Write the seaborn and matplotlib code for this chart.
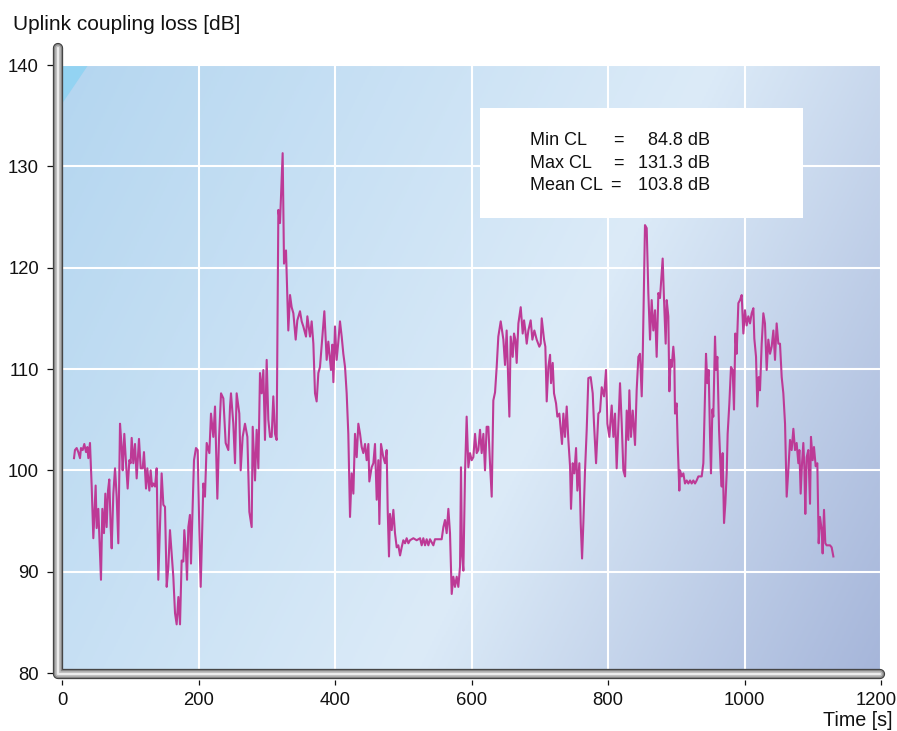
import numpy as np
import pandas as pd
import matplotlib
matplotlib.use("Agg")
import matplotlib.pyplot as plt
import matplotlib.transforms as mtransforms
import seaborn as sns
from matplotlib.patches import Polygon, Rectangle
from matplotlib.colors import LinearSegmentedColormap

# ---------------- data ----------------
time_s = [
    17.6, 19.0, 21.5, 23.9, 26.4, 27.8, 30.3, 32.7, 35.2, 37.1, 38.6, 41.0, 43.5, 45.9, 49.3,
    50.8, 53.2, 57.1, 59.1, 61.5, 63.5, 65.4, 67.4, 69.3, 71.3, 72.8, 75.2, 77.7, 80.1, 82.5,
    85.0, 87.4, 88.9, 91.3, 93.8, 96.2, 98.7, 100.6, 102.1, 104.5, 107.0, 109.4, 112.8, 115.3,
    118.2, 120.1, 123.1, 125.0, 128.0, 129.9, 131.9, 133.8, 136.3, 138.7, 141.1, 146.0, 148.5,
    150.9, 153.4, 155.8, 158.2, 160.7, 163.1, 165.6, 168.0, 170.5, 172.9, 175.3, 177.8, 179.2,
    181.7, 183.2, 185.1, 187.5, 189.0, 191.5, 193.4, 196.3, 198.8, 201.2, 203.2, 205.0,
    207.1, 209.5, 212.0, 215.9, 218.3, 221.7, 224.2, 227.6, 230.0, 233.0, 236.4, 239.8, 243.7,
    246.2, 247.6, 251.0, 253.5, 255.9, 259.8, 261.8, 264.7, 268.1, 271.6, 274.5, 277.9, 279.4,
    282.8, 285.2, 287.7, 290.1, 292.6, 295.0, 297.4, 299.9, 302.3, 304.8, 307.2, 309.6, 312.1,
    314.5, 317.0, 319.4, 323.3, 325.3, 328.2, 331.6, 334.1, 336.5, 339.0, 342.4, 344.8, 348.7,
    351.2, 353.6, 357.5, 359.5, 363.4, 365.8, 368.3, 370.7, 373.1, 375.6, 378.0, 384.4, 387.8,
    390.2, 394.1, 396.1, 397.6, 400.0, 402.4, 404.9, 407.3, 409.8, 412.2, 414.7, 417.1, 419.5,
    422.0, 424.4,
    426.9, 429.3, 431.8, 434.2, 436.7, 439.1, 441.5, 444.0, 446.4, 448.9, 450.3, 452.3, 453.7,
    456.2, 458.6, 461.1, 463.5, 465.0, 467.4, 470.8, 473.3, 475.7, 477.2, 479.1, 480.6, 483.1,
    485.5, 487.9, 490.4, 492.8, 495.3, 497.7, 500.1, 502.6, 505.0, 507.5, 509.9, 514.8, 519.7,
    524.6, 527.0, 529.4, 531.9, 534.3, 536.8, 539.2, 544.1, 546.5, 551.4, 556.3, 558.8, 561.2,
    563.6, 566.1, 568.5, 571.0, 573.4, 575.8, 578.3, 580.7, 583.2, 584.6, 586.1, 588.1, 590.5,
    592.9, 595.4, 597.8, 600.3, 602.7, 605.2, 607.6, 610.0, 612.5, 614.9, 617.4, 619.8, 622.2,
    624.7, 627.1, 629.6, 632.0, 634.5, 636.9, 639.3, 642.8, 646.7, 649.1, 651.5, 655.5,
    657.4, 660.4, 662.3, 664.3, 666.2, 668.7, 672.1, 675.0, 677.0, 678.9, 680.9, 683.3, 686.7,
    689.2, 692.1, 695.5, 699.4, 701.4, 702.9, 706.3, 708.2, 710.2, 712.6, 715.1, 716.5, 719.0,
    720.9, 723.9, 725.8, 728.7, 730.7, 732.6, 734.6, 737.0, 739.5, 741.9, 744.4, 745.8, 748.3,
    750.7, 753.2, 755.1, 758.0, 760.0, 762.0, 763.9, 766.3, 768.8, 771.2, 774.6, 777.6, 779.5,
    782.5, 785.9, 788.3, 790.8, 794.2, 797.1, 799.1, 802.0, 805.4, 807.9, 810.3, 812.7, 815.2,
    817.6, 820.1, 822.5, 825.0, 827.4, 829.8, 831.3, 833.7, 836.2, 839.6, 842.0, 844.5, 846.9,
    849.4, 850.8,
    854.2, 856.7, 859.1, 861.6, 864.0, 866.4, 868.9, 871.3, 873.8, 876.2, 880.1, 882.1, 884.5,
    886.0, 888.4, 889.9, 891.8, 893.3, 895.7, 897.2, 898.2, 900.6, 902.1, 904.5, 905.5, 908.0,
    910.4, 912.8, 915.3, 917.7, 920.2, 922.6, 925.0, 927.5, 929.9, 932.4, 937.3, 939.7, 942.1,
    943.6, 945.6, 947.5, 949.5, 950.9, 952.9, 954.3, 956.8, 958.3, 960.2, 962.7, 965.1, 966.6,
    968.0, 970.0, 971.9, 973.9, 975.3, 977.8, 980.2, 982.7, 984.6, 986.6, 988.5, 991.0, 993.4,
    995.9, 998.3, 1000.7, 1003.2, 1005.6, 1008.1, 1010.5, 1013.0, 1014.4, 1016.9, 1018.8,
    1020.8, 1022.7, 1025.2, 1027.6, 1030.0, 1032.5, 1034.9, 1037.4, 1039.8, 1042.3, 1044.7,
    1047.1, 1049.6, 1052.0, 1054.5, 1056.9, 1059.4, 1061.8, 1064.2, 1066.7, 1069.1, 1071.6,
    1074.0, 1076.4, 1078.9, 1080.4, 1082.3, 1084.3, 1086.2, 1087.7, 1089.1, 1091.1, 1093.5,
    1096.0, 1097.4, 1099.9, 1101.8, 1104.3, 1106.7, 1108.7, 1110.6, 1113.1, 1114.5, 1116.5,
    1118.4, 1120.4, 1125.3, 1127.7, 1130.2,
]

coupling_loss_db = [
    101.2, 102.0, 102.2, 101.8, 101.2, 102.2, 102.0, 102.6, 101.8, 102.3, 101.2, 102.7, 98.4, 93.3, 98.5,
    94.3, 96.2, 89.2, 96.2, 93.8, 97.7, 94.4, 98.0, 99.1, 94.4, 92.3, 97.7, 100.2, 97.4, 92.8,
    104.6, 102.3, 100.0, 103.6, 100.7, 98.2, 101.0, 100.7, 103.2, 100.7, 102.6, 99.2, 103.1, 100.2,
    100.2, 101.8, 98.2, 100.2, 98.0, 100.0, 98.4, 98.7, 98.4, 100.2, 89.2, 99.7, 96.6,
    96.4, 88.5, 90.5, 94.1, 91.8, 89.5, 85.9, 84.8, 87.5, 84.8, 91.1, 91.0, 94.1,
    91.8, 89.2, 94.4, 95.6, 90.8, 96.4, 101.0, 102.2, 102.0, 94.1, 88.5, 93.0,
    98.7, 97.4, 102.7, 101.7, 105.6, 103.3, 106.3, 97.2, 103.0, 107.6, 107.1, 102.7, 102.0,
    106.3, 107.6, 104.6, 100.7, 107.6, 105.6, 100.0, 103.3, 104.6, 103.3, 95.9, 94.4, 104.3,
    99.0, 104.0, 100.2, 109.6, 107.6, 109.9, 103.0, 110.9, 105.0, 103.3, 103.3, 107.3, 103.6,
    103.0, 125.7, 124.4, 131.3, 120.4, 121.7, 113.8, 117.3, 116.1, 115.5, 112.9, 114.8, 115.7,
    114.7, 114.2, 113.2, 115.2, 113.2, 114.7, 112.5, 107.6, 106.8, 109.6, 110.2, 115.7, 110.9,
    112.7, 109.9, 112.4, 108.7, 114.2, 110.9, 112.7, 114.7, 113.2, 111.5, 110.2, 107.6, 103.6,
    95.4, 99.7,
    97.7, 103.6, 101.3, 104.6, 103.6, 102.3, 101.7, 102.6, 101.0, 102.6, 98.9, 99.7, 100.3,
    100.7, 102.6, 97.1, 101.0, 94.7, 102.6, 101.3, 100.7, 102.0, 96.1, 91.5, 95.7, 94.1,
    96.1, 93.8, 92.4, 92.6, 91.6, 92.4, 93.1, 92.8, 93.3, 92.8, 93.1, 93.3, 93.1,
    93.3, 92.6, 93.3, 92.6, 93.2, 92.6, 93.2, 92.6, 93.2, 93.2, 93.2, 94.4, 95.1,
    93.8, 96.2, 93.8, 87.8, 89.5, 88.5, 89.5, 88.5, 90.5, 100.3, 91.8, 90.1, 99.7,
    105.3, 100.3, 101.7, 101.0, 101.3, 103.6, 101.7, 102.0, 104.0, 101.7, 103.6, 100.0, 104.3,
    104.3, 100.7, 97.4, 106.9, 107.7, 110.2, 113.2, 114.7, 112.9, 110.4, 113.8, 105.3,
    113.2, 111.2, 113.5, 112.9, 110.6, 114.5, 116.1, 113.5, 114.8, 113.8, 112.5, 113.8, 114.8,
    112.9, 113.8, 112.9, 112.2, 112.5, 115.0, 112.9, 112.2, 106.8, 110.2, 111.4, 108.6, 110.6,
    107.6, 106.6, 105.3, 105.6, 104.0, 102.6, 105.6, 103.3, 106.3, 103.0, 100.4, 96.2, 100.7,
    99.7, 102.2, 98.0, 100.7, 94.8, 91.3, 94.8, 99.9, 104.0, 109.1, 109.2, 107.6, 104.6,
    100.7, 105.6, 105.8, 108.2, 107.3, 109.9, 104.6, 103.3, 106.4, 103.3, 105.6, 100.2, 104.6,
    108.6, 104.6, 100.0, 99.4, 105.9, 103.0, 107.9, 103.3, 105.9, 102.5, 107.9, 111.2, 111.5,
    107.3, 110.9,
    124.2, 123.9, 117.5, 112.9, 116.8, 113.8, 115.8, 111.2, 117.5, 117.0, 120.9, 116.8, 112.5,
    116.8, 115.2, 107.8, 110.9, 110.2, 112.2, 110.9, 105.6, 106.6, 102.7, 98.0, 100.0, 99.4,
    99.7, 98.7, 99.0, 98.7, 99.0, 98.7, 99.0, 98.7, 99.0, 99.4, 99.4, 100.7, 107.3,
    111.5, 108.6, 109.9, 103.3, 99.7, 106.0, 105.3, 113.2, 109.9, 111.2, 104.0, 100.0, 98.4,
    101.7, 94.8, 96.7, 99.7, 103.6, 106.6, 110.2, 109.9, 106.0, 113.5, 111.5, 116.5, 116.8,
    117.3, 113.5, 115.8, 114.3, 115.2, 114.5, 115.5, 116.0, 113.0, 111.2, 106.3,
    109.2, 107.9, 112.5, 115.5, 114.5, 109.9, 112.9, 111.5, 112.2, 113.8, 110.9,
    114.5, 112.5, 112.5, 109.2, 107.6, 104.6, 97.4, 100.0, 103.0, 102.0, 104.1,
    102.0, 102.7, 100.7, 102.0, 97.7, 100.7, 102.7, 100.3, 95.7, 101.3, 102.0,
    96.7, 103.3, 101.0, 102.3, 100.4, 100.7, 92.8, 95.4, 94.1, 91.8, 96.1,
    92.8, 92.6, 92.6, 92.4, 91.5,
]

x_ticks = [0, 200, 400, 600, 800, 1000, 1200]
y_ticks = [80, 90, 100, 110, 120, 130, 140]
stats_labels = ["Min CL", "Max CL", "Mean CL"]
stats_values = ["84.8 dB", "131.3 dB", "103.8 dB"]
x_label = "Time [s]"
y_label = "Uplink coupling loss [dB]"

df = pd.DataFrame({"time": time_s, "cl": coupling_loss_db})

# ---------------- figure ----------------
plt.rcParams['font.family'] = ['Liberation Sans', 'DejaVu Sans']
FW, FH = 897, 731
fig = plt.figure(figsize=(FW / 100, FH / 100), dpi=100)
ax = fig.add_axes([62 / FW, 58 / FH, 819 / FW, 608 / FH])
ax.set_xlim(0, 1200)
ax.set_ylim(80, 140)

# diagonal gradient background
xx, yy = np.meshgrid(np.linspace(0, 818, 410), np.linspace(0, 605, 300))
k = 0.5
s = (xx + k * yy) / (818 + k * 605)
cmap = LinearSegmentedColormap.from_list(
    "bg", [(0.0, "#b4d6f0"), (0.58, "#dcebf8"), (1.0, "#a6b6da")])
ax.imshow(s, cmap=cmap, vmin=0, vmax=1, extent=(0, 1200, 80, 140),
          aspect="auto", origin="upper", interpolation="bilinear", zorder=0)
ax.add_patch(Polygon([(0, 1), (0.032, 1), (0, 0.936)], closed=True,
                     transform=ax.transAxes, facecolor="#93d3f2",
                     edgecolor="none", zorder=0.2))

# grid
ax.set_xticks(x_ticks)
ax.set_yticks(y_ticks)
ax.grid(True, color="white", linewidth=1.5, zorder=0.5)
ax.set_axisbelow(True)

# data line
sns.lineplot(data=df, x="time", y="cl", ax=ax, color="#bd3a96",
             linewidth=1.5, estimator=None, sort=False, zorder=3)
ax.set_xlabel("")
ax.set_ylabel("")

# statistics box
ax.add_patch(Rectangle((0.510, 0.748), 0.395, 0.181, transform=ax.transAxes,
                       facecolor="white", edgecolor="none", zorder=4))
ys = [0.8684, 0.8306, 0.7944]
eq_x = [0.6789, 0.6789, 0.6752]
for lab, val, yv, ex in zip(stats_labels, stats_values, ys, eq_x):
    ax.text(0.5714, yv, lab, transform=ax.transAxes, ha="left", va="baseline",
            fontsize=13, color="#111111", zorder=5)
    ax.text(ex, yv, "=", transform=ax.transAxes, ha="center", va="baseline",
            fontsize=13, color="#111111", zorder=5)
    ax.text(0.7912, yv, val, transform=ax.transAxes, ha="right", va="baseline",
            fontsize=13, color="#111111", zorder=5)

# 3D-looking tube axes
tube_x = [-0.00488, -0.00488, 0.9988]
tube_y = [1.028, -0.0016, -0.0016]
for col, lw in [("#3a3a3a", 7.4), ("#858585", 6.0), ("#bcbcbc", 4.0), ("#ececec", 1.6)]:
    ax.plot(tube_x, tube_y, transform=ax.transAxes, color=col, linewidth=lw,
            solid_joinstyle="round", solid_capstyle="round", clip_on=False, zorder=6)

for sp in ax.spines.values():
    sp.set_visible(False)
ax.spines["left"].set_position(("outward", 6.5))
ax.spines["bottom"].set_position(("outward", 5.0))
ax.tick_params(axis="y", direction="out", length=4.3, width=0.9, pad=5.8,
               labelsize=13.3, colors="#111111")
ax.tick_params(axis="x", direction="out", length=3.6, width=0.9, pad=5.0,
               labelsize=13.3, colors="#111111")

# keep the last x tick label inside the canvas, as in the reference
last = ax.get_xticklabels()[-1]
last.set_transform(last.get_transform() +
                   mtransforms.ScaledTranslation(-5 / 100, 0, fig.dpi_scale_trans))

fig.text(12.7 / FW, 1 - 30 / FH, y_label, ha="left", va="baseline",
         fontsize=15, color="#111111")
fig.text(892 / FW, 1 - 726 / FH, x_label, ha="right", va="baseline",
         fontsize=14.2, color="#111111")

fig.savefig("out.png", dpi=100)
